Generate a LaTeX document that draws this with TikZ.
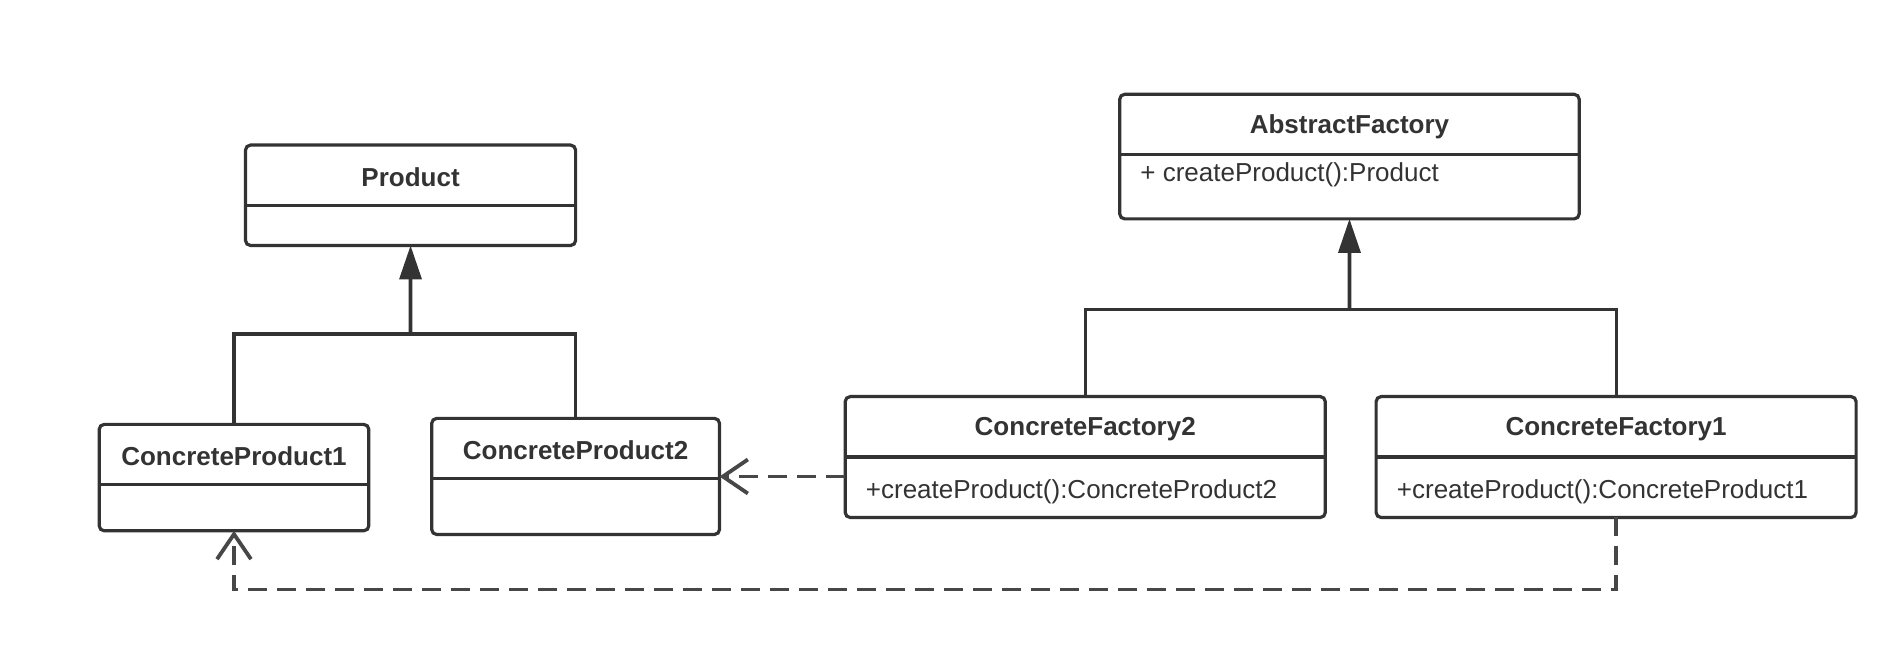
\documentclass[tikz,border=0pt]{standalone}
\usepackage{fontspec}
\setmainfont{Liberation Sans}
\usetikzlibrary{arrows.meta}
\definecolor{ln}{HTML}{333333}
\definecolor{dl}{HTML}{474747}
\tikzset{
  classbox/.style={draw=ln, line width=1.6pt, rounded corners=2.5pt, inner sep=0pt, outer sep=0pt, fill=white},
  titletext/.style={font=\fontsize{13}{15}\selectfont\bfseries, text=ln, inner sep=0pt, yshift=-1pt},
  methtext/.style={font=\fontsize{13}{15}\selectfont, text=ln, inner sep=0pt, anchor=west},
  divider/.style={draw=ln, line width=1.6pt},
  genline/.style={draw=ln, line width=1.6pt},
  inherit/.style={draw=ln, line width=1.8pt, -{Triangle[length=17pt,width=11pt]}},
  depend/.style={draw=dl, line width=1.9pt, dash pattern=on 9.5pt off 5pt, -{Straight Barb[length=12.5pt,width=17pt]}},
}
% #1 name, #2 x1, #3 y1, #4 x2, #5 y2, #6 divider y, #7 title
\newcommand\umlclass[7]{%
  \node[classbox, minimum width={(#4-#2)*0.5pt}, minimum height={(#5-#3)*0.5pt}] (#1) at ({(#2+#4)/2},{(#3+#5)/2}) {};
  \draw[divider] (#2,#6) -- (#4,#6);
  \node[titletext] (#1-title) at ({(#2+#4)/2},{(#3+#6)/2}) {#7};
}
\begin{document}
\begin{tikzpicture}[x=0.5pt, y=-0.5pt]
  \fill[white] (0,0) rectangle (1896,672);
  \useasboundingbox (0,0) rectangle (1896,672);

  % classes
  \umlclass{prod}{245.5}{145.1}{575.6}{245.5}{205.6}{Product}
  \umlclass{cp1}{99.2}{424.4}{368.8}{530.8}{484.9}{ConcreteProduct1}
  \umlclass{cp2}{431.7}{418.4}{719.5}{534.5}{478.8}{ConcreteProduct2}
  \umlclass{af}{1119.7}{94.3}{1579.2}{218.9}{154.8}{AbstractFactory}
  \umlclass{cf2}{845.2}{396.6}{1325.3}{517.5}{457.1}{ConcreteFactory2}
  \umlclass{cf1}{1376.1}{396.6}{1856.1}{517.5}{457.1}{ConcreteFactory1}

  % methods
  \node[methtext] (af-m) at (1140,175) {+ createProduct():Product};
  \node[methtext] (cf2-m) at (865.5,491.5) {+createProduct():ConcreteProduct2};
  \node[methtext] (cf1-m) at (1396.5,491.5) {+createProduct():ConcreteProduct1};

  % generalisation: products
  \coordinate (pj) at (410.5,334);
  \draw[genline] (cp1.north) |- (pj);
  \draw[genline] (cp2.north) |- (pj);
  \draw[inherit] (pj) -- (prod.south);

  % generalisation: factories
  \coordinate (fj) at (1349.5,309.6);
  \draw[genline] (cf2.north) |- (fj);
  \draw[genline] (cf1.north) |- (fj);
  \draw[inherit] (fj) -- (af.south);

  % dependencies
  \draw[depend] (cf2.west |- 0,476.5) -- (cp2.east |- 0,476.5);
  \draw[depend] (cf1.south) -- ++(0,72) -| (cp1.south);
\end{tikzpicture}
\end{document}
